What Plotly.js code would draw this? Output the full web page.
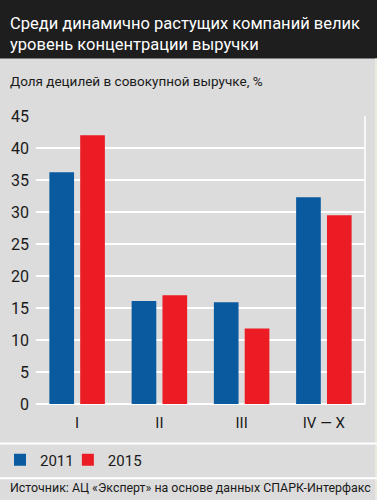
<!DOCTYPE html>
<html><head><meta charset="utf-8">
<script src="https://cdn.plot.ly/plotly-3.0.1.min.js"></script>
<style>html,body{margin:0;padding:0;background:#dcdcdc}#c{width:377px;height:500px}</style>
</head><body><div id="c"></div>
<script>
const categories = ['I', 'II', 'III', 'IV — X'];
const values2011 = [36.2, 16.1, 15.9, 32.3];
const values2015 = [42.0, 17.0, 11.8, 29.5];
const seriesNames = ['2011', '2015'];
const yTicks = [0, 5, 10, 15, 20, 25, 30, 35, 40, 45];

const F = 'Roboto, "Liberation Sans", sans-serif';
const traces = [
  {type: 'bar', name: seriesNames[0], x: categories, y: values2011, marker: {color: '#0a5aa0'}, legend: 'legend'},
  {type: 'bar', name: seriesNames[1], x: categories, y: values2015, marker: {color: '#ec1c24'}, legend: 'legend2'}
];
const legendBase = {orientation: 'h', xref: 'container', yref: 'container', y: 0.08, yanchor: 'middle',
  font: {family: F, size: 15, color: '#1a1a1a'}, bgcolor: 'rgba(0,0,0,0)', itemclick: false};
const layout = {
  width: 377, height: 500,
  margin: {l: 36, r: 12, t: 116, b: 96},
  paper_bgcolor: '#dcdcdc', plot_bgcolor: '#dcdcdc',
  font: {family: F, color: '#1a1a1a', size: 15},
  barmode: 'group', bargap: 0.25, bargroupgap: 0.2,
  showlegend: true,
  legend: Object.assign({}, legendBase, {x: -0.016}),
  legend2: Object.assign({}, legendBase, {x: 0.18}),
  xaxis: {tickfont: {family: F, size: 15}, ticks: '', showgrid: false, zeroline: false, fixedrange: true, ticklabelstandoff: 8},
  yaxis: {range: [0, 45], tickvals: yTicks, ticktext: yTicks.map(String), showgrid: true, gridcolor: '#ffffff',
          gridwidth: 1.5, zeroline: true, zerolinecolor: '#ffffff', zerolinewidth: 2, ticks: '',
          tickfont: {family: F, size: 16}, ticklabelstandoff: 6, fixedrange: true},
  shapes: [
    {type: 'rect', xref: 'paper', yref: 'paper', x0: -0.2, x1: 1.1, y0: 1.2, y1: 2, fillcolor: '#1e1e1e', line: {width: 0}, layer: 'below'},
    {type: 'line', xref: 'paper', yref: 'paper', x0: 1, x1: 1, y0: 0, y1: 1, line: {color: '#ffffff', width: 1.5}, layer: 'below'},
    {type: 'rect', xref: 'paper', yref: 'paper', x0: 1.0305, x1: 1.1, y0: -0.5, y1: 1.2, fillcolor: '#ebe9df', line: {width: 0}},
    {type: 'line', xref: 'paper', yref: 'paper', x0: -0.2, x1: 1.1, y0: -0.137, y1: -0.137, line: {color: '#ffffff', width: 2}},
    {type: 'line', xref: 'paper', yref: 'paper', x0: -0.2, x1: 1.1, y0: -0.258, y1: -0.258, line: {color: '#ffffff', width: 2}}
  ],
  annotations: [
    {xref: 'paper', yref: 'paper', x: -0.085, y: 1.21, xanchor: 'left', yanchor: 'bottom', showarrow: false, align: 'left',
     text: 'Среди динамично растущих компаний велик<br>уровень концентрации выручки', font: {family: F, size: 16.5, color: '#ffffff'}},
    {xref: 'paper', yref: 'paper', x: -0.085, y: 1.12, xanchor: 'left', yanchor: 'middle', showarrow: false,
     text: 'Доля децилей в совокупной выручке, %', font: {family: F, size: 13.5, color: '#1a1a1a'}},
    {xref: 'paper', yref: 'paper', x: -0.085, y: -0.29, xanchor: 'left', yanchor: 'middle', showarrow: false,
     text: 'Источник: АЦ «Эксперт» на основе данных СПАРК-Интерфакс', font: {family: F, size: 12.4, color: '#1a1a1a'}}
  ]
};
Plotly.newPlot('c', traces, layout, {displayModeBar: false, staticPlot: true});
</script></body></html>
